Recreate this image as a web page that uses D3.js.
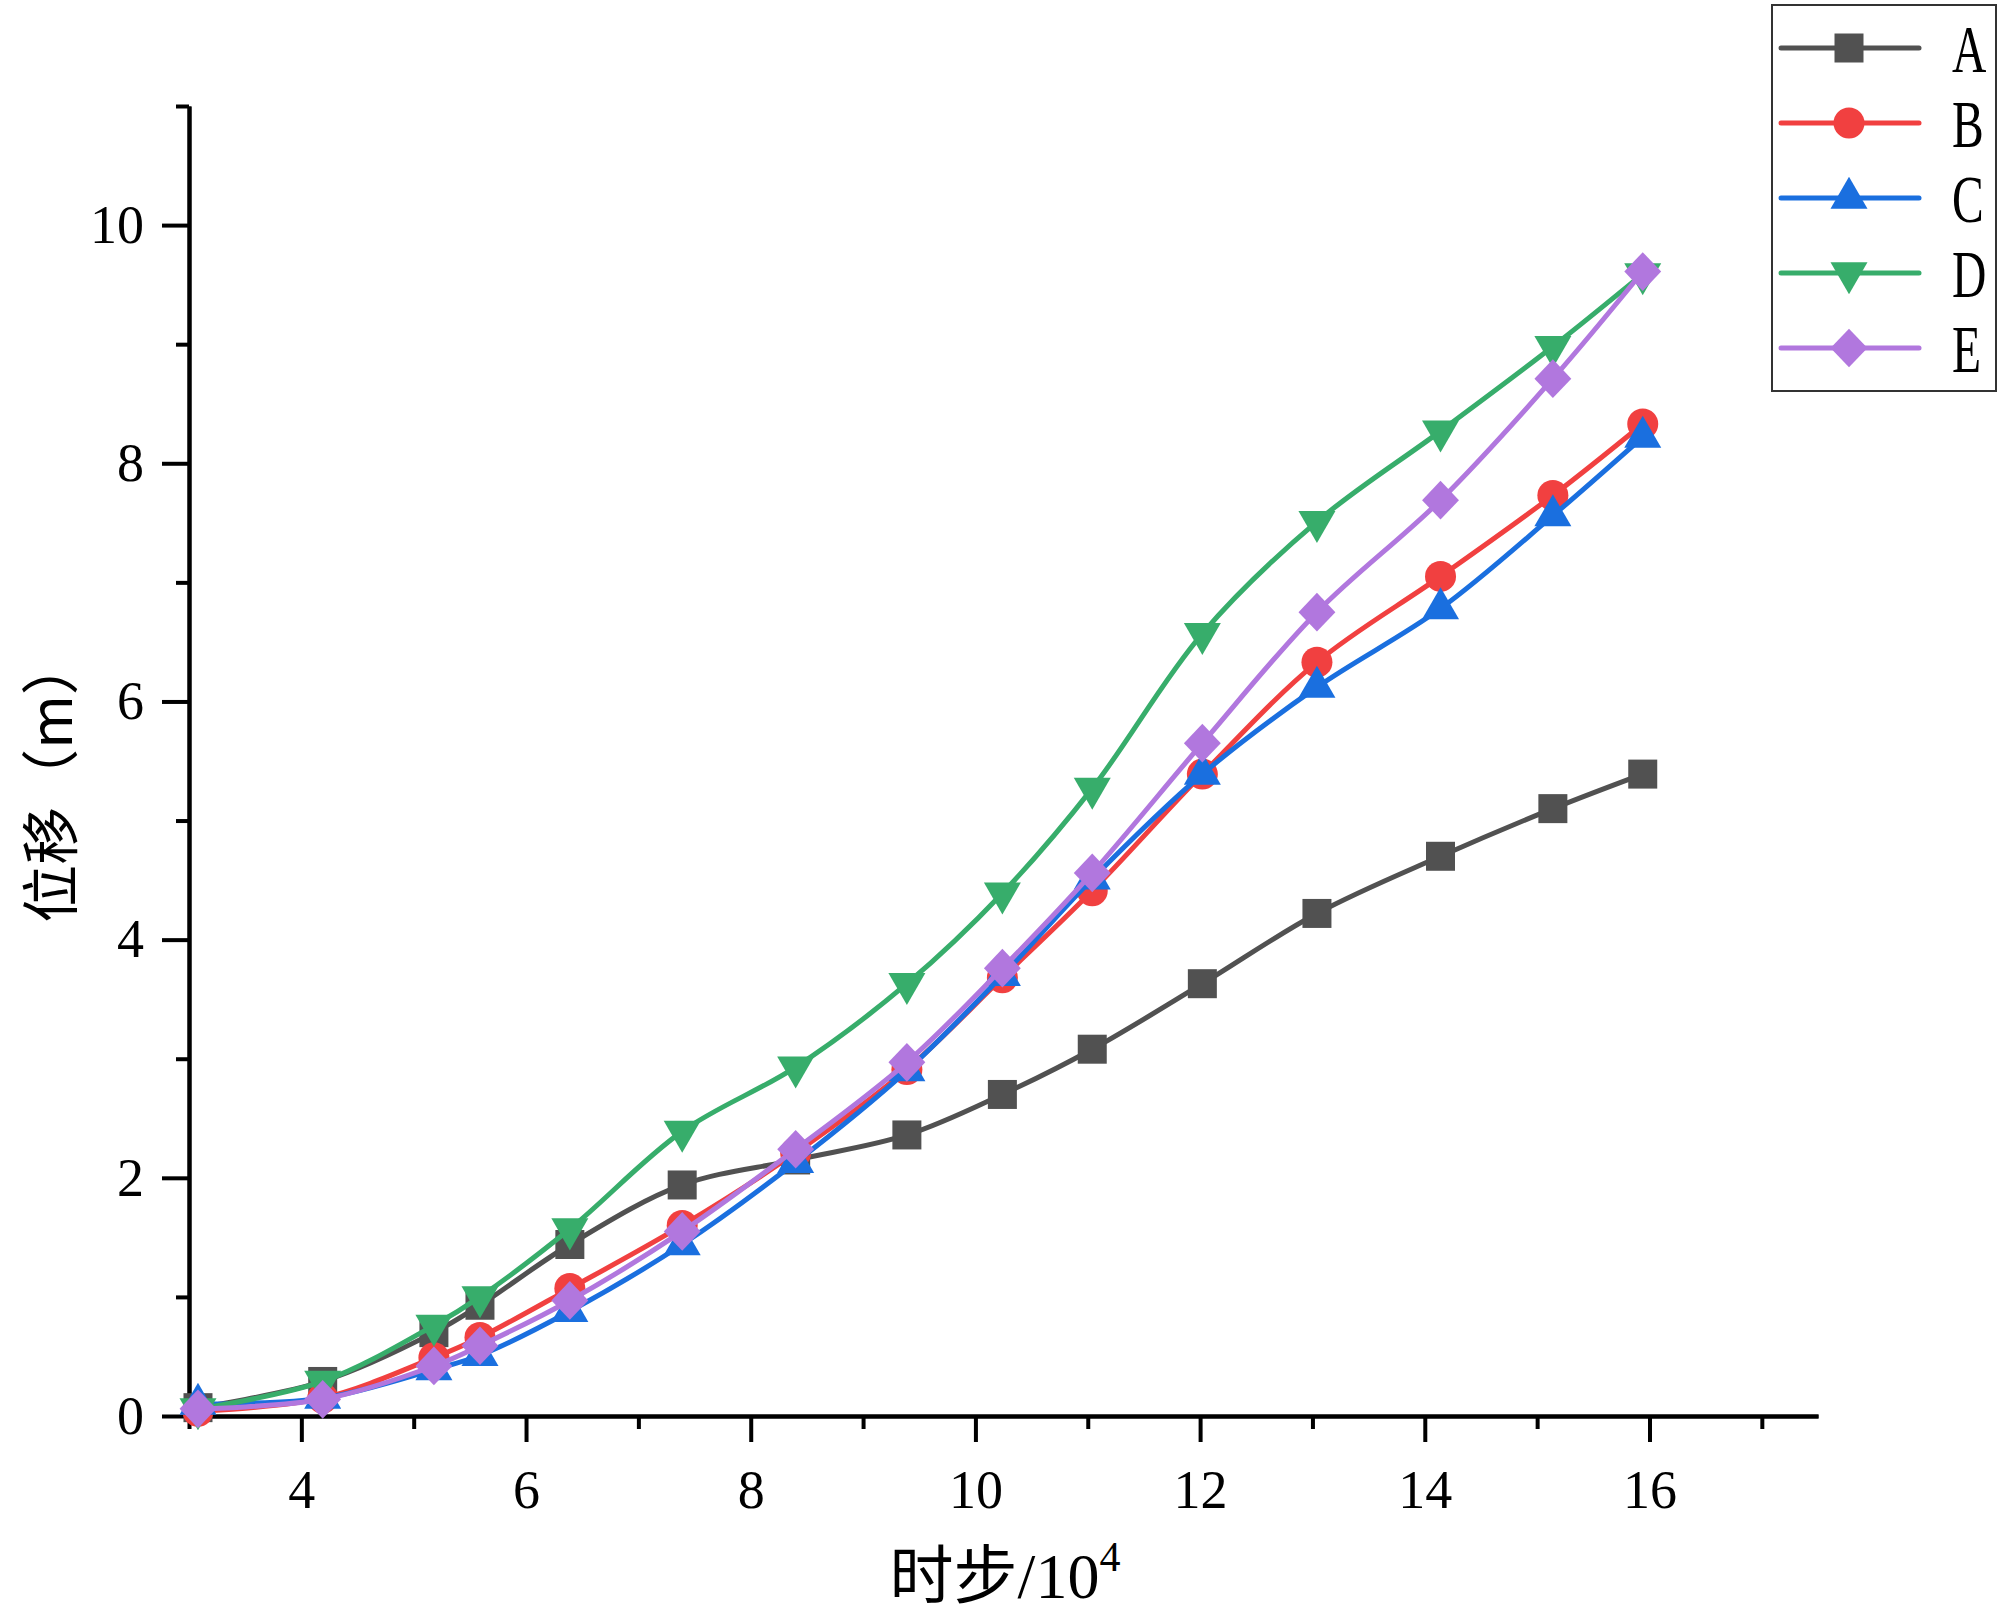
<!DOCTYPE html>
<html>
<head>
<meta charset="utf-8">
<script src="https://cdn.jsdelivr.net/npm/d3@7"></script>
<style>
  html, body { margin: 0; padding: 0; background: #fff; }
  svg { display: block; }
  .tick text { font-family: "Liberation Serif", "DejaVu Serif", serif; }
</style>
</head>
<body>
<div id="chart"></div>
<script>
// values
const steps = [3.08, 4.19, 5.18, 5.59, 6.39, 7.39, 8.40, 9.39, 10.24, 11.04, 12.02, 13.04, 14.14, 15.14, 15.94];
const seriesA = [0.07, 0.29, 0.70, 0.93, 1.44, 1.94, 2.15, 2.36, 2.70, 3.08, 3.63, 4.22, 4.70, 5.10, 5.39];
const seriesB = [0.04, 0.15, 0.49, 0.66, 1.07, 1.60, 2.21, 2.91, 3.68, 4.41, 5.39, 6.33, 7.05, 7.73, 8.33];
const seriesC = [0.10, 0.15, 0.39, 0.51, 0.88, 1.44, 2.13, 2.90, 3.70, 4.51, 5.39, 6.12, 6.78, 7.56, 8.22];
const seriesD = [0.06, 0.29, 0.76, 1.00, 1.57, 2.39, 2.93, 3.63, 4.39, 5.27, 6.57, 7.51, 8.27, 8.98, 9.59];
const seriesE = [0.06, 0.14, 0.42, 0.59, 0.97, 1.55, 2.24, 2.97, 3.76, 4.56, 5.65, 6.75, 7.69, 8.71, 9.61];
const names = ['A', 'B', 'C', 'D', 'E'];
const xMajor = [4, 6, 8, 10, 12, 14, 16];
const xMinor = [3, 5, 7, 9, 11, 13, 15, 17];
const yMajor = [0, 2, 4, 6, 8, 10];
const yMinor = [1, 3, 5, 7, 9, 11];

const colors = ['#515151', '#F14040', '#1A6FDF', '#37AD6B', '#B177DE'];

// diamond drawn as a square turned 45deg
const symbolRhombus = {
  draw(context, size) {
    const r = Math.sqrt(size / 2);
    context.moveTo(0, -r * 1.05);
    context.lineTo(r, 0);
    context.lineTo(0, r * 1.05);
    context.lineTo(-r, 0);
    context.closePath();
  },
};
const markers = [
  { type: d3.symbolSquare, size: 841, rotate: 0 },
  { type: d3.symbolCircle, size: 755, rotate: 0 },
  { type: d3.symbolTriangle, size: 593, rotate: 0 },
  { type: d3.symbolTriangle, size: 593, rotate: 180 },
  { type: symbolRhombus, size: 680, rotate: 0 },
];

const W = 2000;
const H = 1624;
const margin = { top: 106, right: 182, bottom: 208, left: 189 };

const svg = d3.select('#chart')
  .append('svg')
  .attr('width', W)
  .attr('height', H);

const xScale = d3.scaleLinear().domain([3, 17.5]).range([margin.left, W - margin.right]);
const yScale = d3.scaleLinear().domain([0, 11]).range([H - margin.bottom, margin.top]);

const series = [seriesA, seriesB, seriesC, seriesD, seriesE].map((vals, i) => ({
  name: names[i],
  color: colors[i],
  marker: markers[i],
  points: vals.map((v, j) => ({ x: steps[j], y: v })),
}));

// axes
const styleAxis = (g) => {
  g.selectAll('.domain').attr('stroke', '#000').attr('stroke-width', 4);
  g.selectAll('.tick line').attr('stroke', '#000').attr('stroke-width', 4);
  g.selectAll('.tick text').attr('fill', '#000').style('font-size', '54px');
};

svg.append('g')
  .attr('class', 'axis x minor')
  .attr('transform', `translate(0,${yScale(0)})`)
  .call(d3.axisBottom(xScale).tickValues(xMinor).tickSize(13).tickSizeOuter(0).tickFormat(''))
  .call(styleAxis);

svg.append('g')
  .attr('class', 'axis x major')
  .attr('transform', `translate(0,${yScale(0)})`)
  .call(d3.axisBottom(xScale).tickValues(xMajor).tickSize(26).tickSizeOuter(0).tickPadding(28))
  .call(styleAxis);

svg.append('g')
  .attr('class', 'axis y minor')
  .attr('transform', `translate(${xScale(3)},0)`)
  .call(d3.axisLeft(yScale).tickValues(yMinor).tickSize(13).tickSizeOuter(0).tickFormat(''))
  .call(styleAxis);

svg.append('g')
  .attr('class', 'axis y major')
  .attr('transform', `translate(${xScale(3)},0)`)
  .call(d3.axisLeft(yScale).tickValues(yMajor).tickSize(27).tickSizeOuter(0).tickPadding(18))
  .call(styleAxis);

// axis titles
const xTitle = svg.append('text')
  .attr('x', 1005)
  .attr('y', 1598)
  .attr('text-anchor', 'middle')
  .style('font-size', '64px')
  .attr('fill', '#000');
xTitle.append('tspan').style('font-family', '"Noto Sans CJK SC"').text('时步');
xTitle.append('tspan').style('font-family', '"Liberation Serif"').text('/10');
xTitle.append('tspan')
  .style('font-family', '"Liberation Serif"')
  .style('font-size', '42px')
  .attr('dy', -27)
  .text('4');

svg.append('text')
  .attr('transform', 'translate(72,780) rotate(-90)')
  .attr('text-anchor', 'middle')
  .style('font-family', '"Noto Sans CJK SC"')
  .style('font-size', '58px')
  .attr('fill', '#000')
  .text('位移（m）');

// lines + markers, A drawn first so E sits on top
const line = d3.line()
  .x((d) => xScale(d.x))
  .y((d) => yScale(d.y))
  .curve(d3.curveCatmullRom.alpha(0.5));

const plot = svg.append('g').attr('class', 'plot');

series.forEach((s) => {
  const g = plot.append('g').attr('class', `series series-${s.name}`);
  g.append('path')
    .attr('d', line(s.points))
    .attr('fill', 'none')
    .attr('stroke', s.color)
    .attr('stroke-width', 5)
    .attr('stroke-linejoin', 'round');

  const sym = d3.symbol().type(s.marker.type).size(s.marker.size);
  g.selectAll('path.marker')
    .data(s.points)
    .join('path')
    .attr('class', 'marker')
    .attr('d', sym)
    .attr('fill', s.color)
    .attr('transform', (d) => `translate(${xScale(d.x)},${yScale(d.y)}) rotate(${s.marker.rotate})`);
});

// legend
const legend = svg.append('g').attr('class', 'legend');
legend.append('rect')
  .attr('x', 1772)
  .attr('y', 5)
  .attr('width', 224)
  .attr('height', 386)
  .attr('fill', '#fff')
  .attr('stroke', '#333')
  .attr('stroke-width', 2);

const rows = legend.selectAll('g.row')
  .data(series)
  .join('g')
  .attr('class', 'row')
  .attr('transform', (d, i) => `translate(0,${48 + i * 75})`);

rows.append('line')
  .attr('x1', 1781)
  .attr('x2', 1919)
  .attr('stroke', (d) => d.color)
  .attr('stroke-width', 5)
  .attr('stroke-linecap', 'round');

rows.append('path')
  .attr('d', (d) => d3.symbol().type(d.marker.type).size(d.marker.size)())
  .attr('fill', (d) => d.color)
  .attr('transform', (d) => `translate(1849,0) rotate(${d.marker.rotate})`);

rows.append('text')
  .attr('transform', 'translate(1952,24) scale(0.7,1)')
  .style('font-family', '"Liberation Serif"')
  .style('font-size', '68px')
  .attr('fill', '#000')
  .text((d) => d.name);
</script>
</body>
</html>
